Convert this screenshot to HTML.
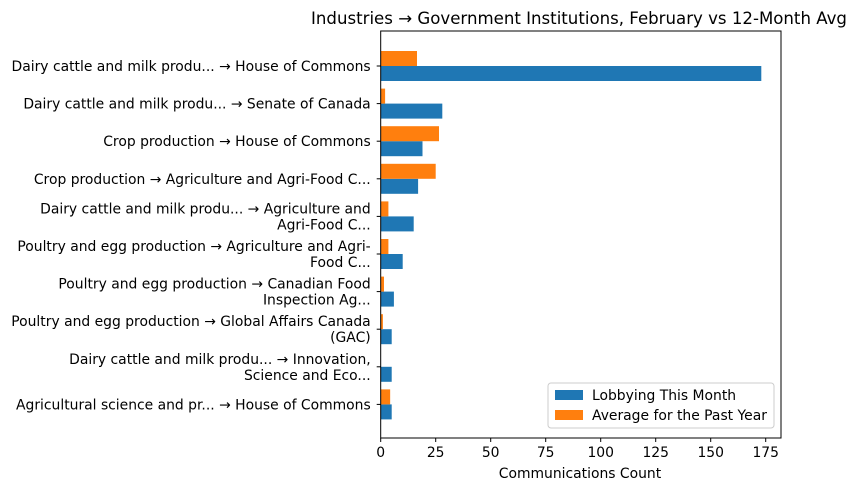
<!DOCTYPE html>
<html><head><meta charset="utf-8"><style>
body{margin:0;background:#fff;font-family:"DejaVu Sans","Liberation Sans",sans-serif;}
svg text{font-family:"DejaVu Sans","Liberation Sans",sans-serif;fill:#000;}
</style></head><body>
<svg id="chart" width="858" height="491" xmlns="http://www.w3.org/2000/svg">
<text x="579" y="24" font-size="16.6" text-anchor="middle">Industries → Government Institutions, February vs 12-Month Avg</text>
<g id="plot"></g>
<text x="580" y="478" font-size="13.9" text-anchor="middle">Communications Count</text>
<g>
<rect x="548" y="383" width="226" height="45" fill="#fff" stroke="#ccc" rx="3"/>
<rect x="555" y="390" width="28" height="10" fill="#1f77b4"/>
<text x="592" y="400" font-size="13.9">Lobbying This Month</text>
<rect x="555" y="410" width="28" height="10" fill="#ff7f0e"/>
<text x="592" y="420" font-size="13.9">Average for the Past Year</text>
</g>
</svg>
<script>
const categories=[["Dairy cattle and milk produ... → House of Commons"],["Dairy cattle and milk produ... → Senate of Canada"],["Crop production → House of Commons"],["Crop production → Agriculture and Agri-Food C..."],["Dairy cattle and milk produ... → Agriculture and","Agri-Food C..."],["Poultry and egg production → Agriculture and Agri-","Food C..."],["Poultry and egg production → Canadian Food","Inspection Ag..."],["Poultry and egg production → Global Affairs Canada","(GAC)"],["Dairy cattle and milk produ... → Innovation,","Science and Eco..."],["Agricultural science and pr... → House of Commons"]];
const thisMonth=[173,28,19,17,15,10,6,5,5,5];
const pastYear=[16.5,2,26.5,25,3.5,3.5,1.5,1,0,4.3];
const xTicks=[0,25,50,75,100,125,150,175];
const NS="http://www.w3.org/2000/svg";
const L=380.7,R=781,T=31,B=438;
const x=v=>L+v*2.2;
const y=i=>66+i*37.6;
const g=document.getElementById('plot');
function mk(t,a){const e=document.createElementNS(NS,t);for(const k in a)e.setAttribute(k,a[k]);g.appendChild(e);return e;}
categories.forEach((c,i)=>{
 const b=mk('rect',{x:L,y:y(i),width:x(thisMonth[i])-L,height:15,fill:'#1f77b4'});
 
 
 const o=mk('rect',{x:L,y:y(i)-15,width:x(pastYear[i])-L,height:15,fill:'#ff7f0e'});
 
 
 mk('line',{x1:L-4,x2:L,y1:y(i),y2:y(i),stroke:'#000'});
 const t=mk('text',{x:L-10,y:(c.length==1?y(i)+5:y(i)-3),'font-size':13.9,'text-anchor':'end'});
 
 
 c.forEach((s,j)=>{const ts=document.createElementNS(NS,'tspan');ts.setAttribute('x',L-10);if(j)ts.setAttribute('dy',16);ts.textContent=s;t.appendChild(ts);});
});
xTicks.forEach(v=>{
 mk('line',{x1:x(v),x2:x(v),y1:B,y2:B+4,stroke:'#000'});
 const t=mk('text',{x:x(v),y:B+19,'font-size':13.9,'text-anchor':'middle'});
 
 
 t.textContent=v;
});
const f=mk('rect',{x:L,y:T,width:R-L,height:B-T,fill:'none',stroke:'#000','stroke-width':1});


</script>
</body></html>
